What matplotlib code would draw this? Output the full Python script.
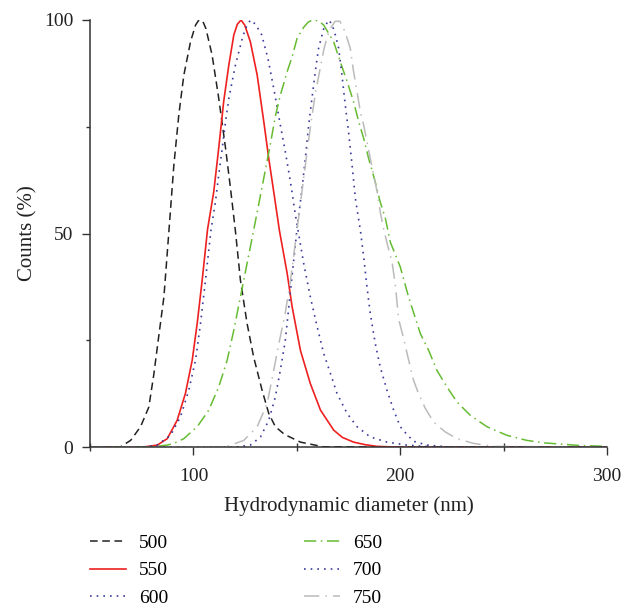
import matplotlib
matplotlib.use("Agg")
import matplotlib.pyplot as plt
from matplotlib.ticker import MultipleLocator

plt.rcParams['font.family'] = ['Liberation Serif', 'DejaVu Serif']

# hydrodynamic diameter (nm) / counts (%)
x500 = [50, 60, 64.7, 69.6, 74.4, 78.4, 80.8, 83.2, 85.7, 88.1, 90.5, 92.9, 95.3, 98.6, 101, 102.3, 103.4,
        104.6, 106, 109, 112.2, 115.5, 117.9, 120.3, 122.7, 125.9, 129.1, 133.2, 136.4, 139.6, 144, 151.7,
        162.8, 300]
y500 = [0, 0, 0.1, 1.6, 4.8, 9.4, 17, 26, 35.2, 50.5, 66, 77.8, 87, 95, 98.8, 99.8, 100,
        99.6, 98, 91.8, 81.7, 70, 60.6, 50.5, 39.1, 29, 21.1, 13.3, 7.9, 4.8, 3.0, 1.2,
        0.1, 0]

x550 = [50, 75, 82.5, 87.3, 92.1, 96.1, 99.4, 101.8, 104.2, 106.8, 109.8, 112.2, 114.6, 117.1, 119.5, 121.2,
        123, 124.8, 127.5, 130.8, 134, 136.4, 138.8, 141.6, 145.3, 147.7, 151.7, 156.5, 161.4, 167.8, 172,
        177.4, 183, 188.7, 200, 300]
y550 = [0, 0, 0.5, 2, 6.3, 12.6, 20.4, 29, 39.1, 51, 59.8, 70, 80.9, 89.5, 96.5, 99,
        100, 98.8, 94.9, 87.1, 76.2, 67.6, 59.8, 50.6, 40.7, 32.9, 22.7, 14.9, 8.7, 4, 2.3,
        1.2, 0.6, 0.2, 0, 0]

x600 = [50, 75, 82.5, 88.9, 93.7, 97.7, 101, 103.4, 105.8, 108.5, 110.6, 112.2, 113.9, 115.5, 117.1, 118.7,
        120.3, 121.9, 123.5, 125.1, 127.5, 130, 133, 136, 139, 142, 144.4, 146.9, 149.3, 153.3, 156.5,
        159.8, 163, 166.2, 169.4, 174.3, 179.1, 185.5, 193.6, 203.2, 215, 300]
y600 = [0, 0, 0.5, 2.8, 7.1, 13.3, 20.4, 29, 39.1, 51, 57.4, 63.7, 70, 76.2, 81.7, 85.6,
        89.5, 92.5, 95.5, 98, 100, 99, 96.5, 91, 83.5, 75.4, 69.2, 62.1, 54.3, 43, 35.2,
        28.2, 21.9, 17.3, 12.6, 7.9, 4.8, 2.4, 1.2, 0.5, 0.1, 0]

x650 = [50, 80, 87.3, 90.5, 95.3, 101.8, 107.4, 112.2, 116.3, 119.5, 122.7, 125.9, 129.1, 132.4, 134.8,
        137.2, 139.6, 142, 145.3, 147.7, 150.1, 153.3, 155.5, 157.5, 160.5, 163, 167.8, 171, 174.3, 177.4,
        179.9, 182.3, 184.7, 187.9, 190.3, 192.8, 195.2, 200, 204, 209.7, 213.7, 217.7, 222.6, 227.4,
        233.8, 241.9, 251.5, 261.2, 270, 287, 300]
y650 = [0, 0.1, 0.5, 0.9, 2, 4.8, 8.7, 14.1, 20.4, 27.4, 35.2, 43, 50.8, 59, 65,
        71, 77.5, 82.4, 87.9, 91.4, 95.7, 98.3, 99.5, 100, 99.8, 98.8, 94.9, 90.2, 85.6, 80.9,
        76.2, 72.3, 67.6, 62.1, 57.4, 53.6, 48, 42.2, 35.2, 26.6, 22.7, 18, 14.1, 10.6,
        7.5, 4.8, 2.8, 1.6, 1, 0.4, 0.2]

x700 = [50, 120, 127.5, 132.4, 136.4, 139.6, 142, 144.4, 147, 150.1, 152.5, 154.1, 155.7, 157.3, 158.9,
        160.5, 163, 165.4, 167, 168.6, 170.2, 171.8, 173.4, 175, 176.7, 178.3, 180.7, 182.3, 183.9, 185.5,
        187.9, 190.3, 193.6, 196.8, 200, 203.2, 206.4, 212.9, 225, 300]
y700 = [0, 0, 0.5, 2.4, 6.3, 11.8, 18, 25, 37, 51.2, 60.6, 67.6, 75.4, 81.7, 87.9,
        93.4, 98, 100, 99, 96.5, 93.4, 87.1, 80.1, 73.8, 66, 58.2, 50.8, 44.6, 37.5, 31.3,
        24.3, 18.8, 13.3, 8.7, 4.8, 3.0, 1.4, 0.5, 0, 0]

x750 = [50, 110, 116.3, 124.3, 130.8, 135.6, 138.8, 141.2, 144.4, 146.9, 149.3, 151, 152.5, 154.1, 155.7,
        157.3, 159, 161.4, 163, 164.6, 166.2, 168.5, 170.8, 172.6, 174.3, 175.8, 177.4, 179.1, 180.7,
        182.3, 183.9, 185.5, 187.1, 188.8, 190.3, 191.9, 194, 196, 197.6, 199.2, 201.6, 204, 206.4,
        208.8, 212.1, 216.1, 221.7, 227.4, 235.4, 245, 300]
y750 = [0, 0, 0.2, 1.6, 4.8, 10.2, 18, 24, 31.5, 39, 48, 54.3, 60, 66, 72,
        77.5, 83, 89, 93, 96, 98, 99.7, 99.7, 98, 95.7, 93.4, 88, 83.2, 78.5,
        75.4, 71.5, 67.6, 63.7, 59.8, 55.1, 51.2, 47, 43.4, 38, 30, 25.5, 20.5, 15.7,
        12.6, 9.1, 5.9, 3.6, 2, 0.9, 0.2, 0]

labels = ['500', '550', '600', '650', '700', '750']

fig = plt.figure(figsize=(6.39, 6.06), dpi=100)
ax = fig.add_axes([0.141, 0.262, 0.809, 0.705])

ax.plot(x500, y500, color='#222222', lw=1.1, ls=(0, (5, 3)), label=labels[0])
ax.plot(x550, y550, color='#ee2020', lw=1.2, ls='-', label=labels[1])
ax.plot(x600, y600, color='#3a3a9a', lw=1.2, ls=(0, (1, 3)), label=labels[2])
ax.plot(x650, y650, color='#66bb33', lw=1.1, ls=(0, (8, 3, 1, 3)), label=labels[3])
ax.plot(x700, y700, color='#3a3a9a', lw=1.2, ls=(0, (1, 3)), label=labels[4])
ax.plot(x750, y750, color='#bbbbbb', lw=1.1, ls=(0, (10, 4, 1, 4)), label=labels[5])

ax.set_xlim(50, 300)
ax.set_ylim(0, 100)
ax.xaxis.set_major_locator(MultipleLocator(100))
ax.xaxis.set_minor_locator(MultipleLocator(50))
ax.yaxis.set_major_locator(MultipleLocator(50))
ax.yaxis.set_minor_locator(MultipleLocator(25))
ax.tick_params(which='major', direction='out', length=6, width=1, colors='#333333', labelsize=14,
               labelcolor='#222222')
ax.tick_params(axis='x', which='major', pad=9)
ax.tick_params(axis='y', which='major', pad=6)
ax.tick_params(axis='x', which='minor', direction='inout', length=6, width=1, colors='#333333')
ax.tick_params(axis='y', which='minor', direction='out', length=3, width=1, colors='#333333')
for s in ['top', 'right']:
    ax.spines[s].set_visible(False)
for s in ['left', 'bottom']:
    ax.spines[s].set_color('#333333')
    ax.spines[s].set_linewidth(1.1)

ax.set_xlabel('Hydrodynamic diameter (nm)', fontsize=15, color='#222222', labelpad=8)
ax.set_ylabel('Counts (%)', fontsize=15, color='#222222', labelpad=5)

ax.legend(loc='upper left', bbox_to_anchor=(0.0, -0.204), ncol=2, frameon=False, fontsize=14,
          handlelength=1.85, handletextpad=0.65, columnspacing=7.0, labelspacing=0.5,
          borderpad=0, borderaxespad=0)

fig.savefig('out.png', dpi=100)
